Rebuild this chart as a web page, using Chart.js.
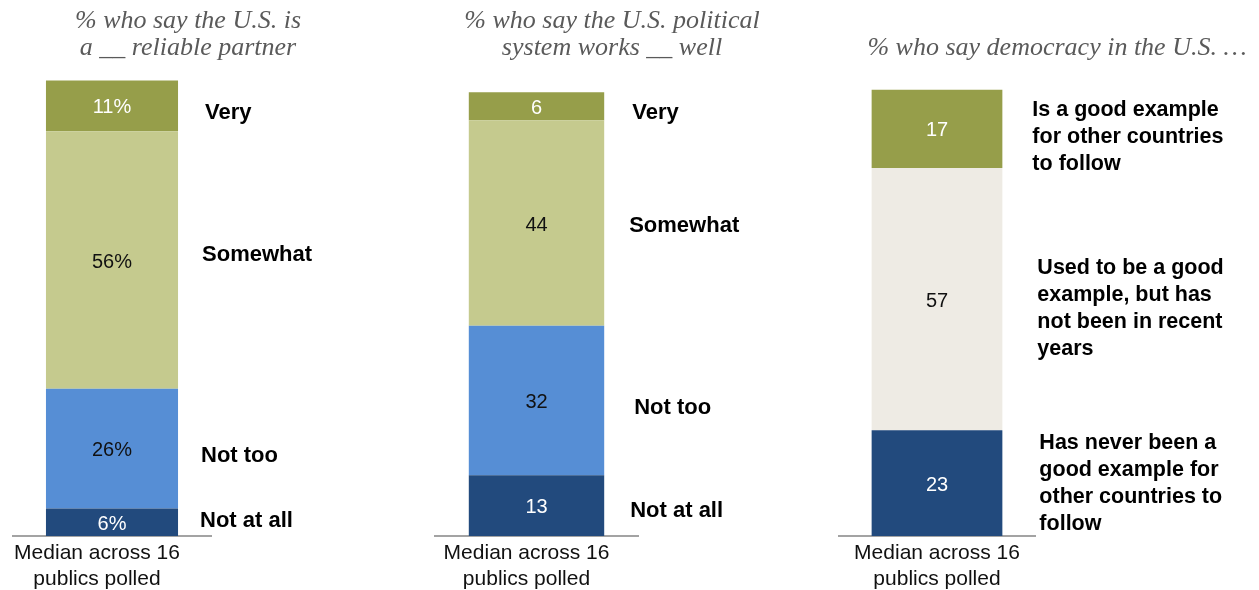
<!DOCTYPE html>
<html>
<head>
<meta charset="utf-8">
<script src="https://cdn.jsdelivr.net/npm/chart.js@4.4.1/dist/chart.umd.min.js"></script>
<style>
  html, body { margin: 0; padding: 0; background: #fff; }
  #wrap { position: relative; width: 1259px; height: 590px; }
  #wrap canvas { position: absolute; left: 0; top: 0; }
</style>
</head>
<body>
<div id="wrap">
  <canvas id="c1" width="1259" height="590"></canvas>
  <canvas id="c2" width="1259" height="590"></canvas>
  <canvas id="c3" width="1259" height="590"></canvas>
</div>
<script>
// data (bottom to top)
const categoryLabel = ["Median across 16", "publics polled"];

const reliableLabels = [["Not at all"], ["Not too"], ["Somewhat"], ["Very"]];
const reliableValues = [6, 26, 56, 11];
const reliableTitle = ["% who say the U.S. is", "a __ reliable partner"];

const politicalLabels = [["Not at all"], ["Not too"], ["Somewhat"], ["Very"]];
const politicalValues = [13, 32, 44, 6];
const politicalTitle = ["% who say the U.S. political", "system works __ well"];

const democracyLabels = [
  ["Has never been a", "good example for", "other countries to", "follow"],
  ["Used to be a good", "example, but has", "not been in recent", "years"],
  ["Is a good example", "for other countries", "to follow"]
];
const democracyValues = [23, 57, 17];
const democracyTitle = ["", "% who say democracy in the U.S. \u2026"];

const NAVY = "#224a7d", BLUE = "#568ed5", LIGHT_OLIVE = "#c5ca8e", OLIVE = "#969e4a", BEIGE = "#eeebe4";

// value inside each segment, category label to the right of the bar
const segmentText = {
  id: "segmentText",
  afterDatasetsDraw(chart, args, opts) {
    const ctx = chart.ctx;
    ctx.save();
    chart.data.datasets.forEach((ds, i) => {
      const bar = chart.getDatasetMeta(i).data[0];
      const mid = (bar.y + bar.base) / 2;
      ctx.textBaseline = "middle";
      ctx.textAlign = "center";
      ctx.font = "20px 'Liberation Sans', Arial, sans-serif";
      ctx.fillStyle = ds.valueColor;
      ctx.fillText(ds.data[0] + opts.suffix, bar.x, mid + 2);

      ctx.textAlign = "left";
      ctx.font = "bold " + opts.labelSize + "px 'Liberation Sans', Arial, sans-serif";
      ctx.fillStyle = "#000";
      const lines = ds.label;
      const lh = opts.lineHeight;
      const start = mid + opts.dy[i] - (lines.length - 1) * lh / 2;
      const x = bar.x + bar.width / 2 + opts.gap + opts.dx[i];
      lines.forEach((t, k) => ctx.fillText(t, x, start + k * lh));
    });
    ctx.restore();
  }
};

const panelTitle = {
  id: "panelTitle",
  afterDraw(chart, args, opts) {
    const ctx = chart.ctx;
    ctx.save();
    ctx.font = "italic 26px 'Liberation Serif', Georgia, serif";
    ctx.fillStyle = "#5a5a5a";
    ctx.textAlign = "center";
    ctx.textBaseline = "alphabetic";
    opts.lines.forEach((t, k) => { if (t) ctx.fillText(t, opts.x, 28 + k * 27); });
    ctx.restore();
  }
};

function makePanel(id, labels, values, colors, valueColors, title, cfg) {
  const datasets = values.map((v, i) => ({
    label: labels[i],
    data: [v],
    backgroundColor: colors[i],
    valueColor: valueColors[i],
    borderWidth: 0,
    categoryPercentage: 1,
    barPercentage: 0.667
  }));
  return new Chart(document.getElementById(id), {
    type: "bar",
    data: { labels: [categoryLabel], datasets },
    options: {
      responsive: false,
      animation: false,
      layout: { padding: { left: cfg.left, right: 1259 - cfg.right, top: cfg.top, bottom: 0 } },
      plugins: {
        legend: { display: false },
        tooltip: { enabled: false },
        segmentText: { suffix: cfg.suffix, gap: cfg.gap, labelSize: cfg.labelSize, lineHeight: cfg.lineHeight, dy: cfg.dy, dx: cfg.dx },
        panelTitle: { lines: title, x: cfg.titleX }
      },
      scales: {
        x: {
          stacked: true,
          grid: { display: false, drawTicks: false },
          border: { display: true, color: "#a3a3a3", width: 2 },
          ticks: {
            color: "#111",
            font: { family: "'Liberation Sans', Arial, sans-serif", size: 21, lineHeight: 1.25 },
            padding: 4,
            labelOffset: cfg.tickOffset,
            maxRotation: 0
          },
          afterFit: (scale) => { scale.height = 54; }
        },
        y: { stacked: true, display: false, min: 0, max: cfg.yMax }
      }
    },
    plugins: [segmentText, panelTitle]
  });
}

makePanel("c1", reliableLabels, reliableValues,
  [NAVY, BLUE, LIGHT_OLIVE, OLIVE], ["#fff", "#111", "#111", "#fff"], reliableTitle,
  { left: 13, right: 211, top: 76, yMax: 100, suffix: "%", gap: 22, labelSize: 22, lineHeight: 27,
    dy: [-1, 7, -5, 7], dx: [0, 1, 2, 5], titleX: 188, tickOffset: -15 });

makePanel("c2", politicalLabels, politicalValues,
  [NAVY, BLUE, LIGHT_OLIVE, OLIVE], ["#fff", "#111", "#111", "#fff"], politicalTitle,
  { left: 435, right: 638, top: 76, yMax: 98.5, suffix: "", gap: 25, labelSize: 22, lineHeight: 27,
    dy: [5, 7, 3, 7], dx: [1, 5, 0, 3], titleX: 612, tickOffset: -10 });

makePanel("c3", democracyLabels, democracyValues,
  [NAVY, BEIGE, OLIVE], ["#fff", "#111", "#fff"], democracyTitle,
  { left: 839, right: 1035, top: 76, yMax: 100, suffix: "", gap: 30, labelSize: 21.5, lineHeight: 27,
    dy: [0, 9, 8], dx: [7, 5, 0], titleX: 1057, tickOffset: 0 });
</script>
</body>
</html>
